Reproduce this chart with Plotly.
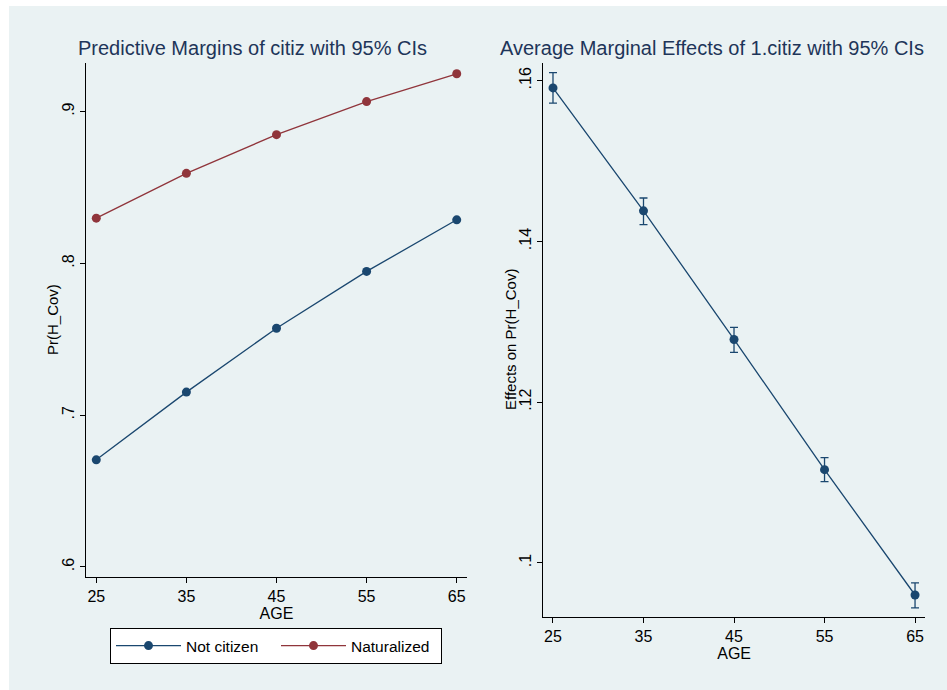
import plotly.graph_objects as go

age = [25, 35, 45, 55, 65]
not_citizen = [0.6706, 0.7152, 0.7573, 0.7947, 0.8287]
naturalized = [0.8298, 0.8593, 0.8848, 0.9066, 0.9249]
ame = [0.1591, 0.1438, 0.1278, 0.1116, 0.0960]
ame_hi = [0.1610, 0.1454, 0.1293, 0.1131, 0.0975]
ame_lo = [0.1572, 0.1421, 0.1262, 0.1101, 0.0944]

left_yticks = [0.6, 0.7, 0.8, 0.9]
left_ylabels = [".6", ".7", ".8", ".9"]
right_yticks = [0.10, 0.12, 0.14, 0.16]
right_ylabels = [".1", ".12", ".14", ".16"]

NAVY = "#1A476F"
MAROON = "#90353B"
BG = "#EAF2F3"
TITLE = "#1E3559"
FONT = "Liberation Sans, Arial, sans-serif"
W, H = 947, 690

fig = go.Figure()
fig.add_trace(go.Scatter(x=age, y=not_citizen, mode="lines+markers", name="Not citizen",
                         line=dict(color=NAVY, width=1.3), marker=dict(color=NAVY, size=9),
                         xaxis="x", yaxis="y"))
fig.add_trace(go.Scatter(x=age, y=naturalized, mode="lines+markers", name="Naturalized",
                         line=dict(color=MAROON, width=1.3), marker=dict(color=MAROON, size=9),
                         xaxis="x", yaxis="y"))
fig.add_trace(go.Scatter(x=age, y=ame, mode="lines+markers", showlegend=False,
                         line=dict(color=NAVY, width=1.3), marker=dict(color=NAVY, size=9),
                         error_y=dict(type="data", symmetric=False,
                                      array=[h - v for h, v in zip(ame_hi, ame)],
                                      arrayminus=[v - l for l, v in zip(ame_lo, ame)],
                                      color=NAVY, thickness=1.3, width=4),
                         xaxis="x2", yaxis="y2"))

def px(v):
    return v / W

def py(v):
    return 1 - v / H

axis_common = dict(showline=True, linecolor="black", linewidth=1, ticks="outside",
                   ticklen=5, tickcolor="black", tickfont=dict(size=16, color="black", family=FONT),
                   zeroline=False)

fig.update_layout(
    width=W, height=H,
    margin=dict(l=0, r=0, t=0, b=0),
    paper_bgcolor="white", plot_bgcolor="white",
    font=dict(family=FONT, color="black"),
    xaxis=dict(domain=[px(86), px(467)], range=[23.86, 66.14], tickvals=age,
               showgrid=False, anchor="y",
               title=dict(text="AGE", font=dict(size=16), standoff=0), **axis_common),
    yaxis=dict(domain=[py(577), py(63)], range=[0.5934, 0.932], tickvals=left_yticks,
               ticktext=left_ylabels, tickangle=-90, showgrid=True, gridcolor=BG, gridwidth=1,
               anchor="x", **axis_common),
    xaxis2=dict(domain=[px(543.3), px(925)], range=[23.93, 66.1], tickvals=age,
                showgrid=False, anchor="y2",
                title=dict(text="AGE", font=dict(size=16), standoff=0), **axis_common),
    yaxis2=dict(domain=[py(616.7), py(63)], range=[0.0933, 0.1622], tickvals=right_yticks,
                ticktext=right_ylabels, tickangle=-90, showgrid=True, gridcolor=BG, gridwidth=1,
                anchor="x2", **axis_common),
    legend=dict(orientation="h", x=px(110), xanchor="left", y=py(628), yanchor="top",
                bgcolor="white", bordercolor="black", borderwidth=1,
                font=dict(size=15.5, color="black", family=FONT),
                entrywidth=85, itemwidth=65, tracegroupgap=0),
    shapes=[dict(type="rect", xref="paper", yref="paper", x0=px(9), x1=1, y0=0, y1=py(6),
                 fillcolor=BG, line=dict(width=0), layer="below")],
    annotations=[
        dict(text="Predictive Margins of citiz with 95% CIs", x=px(253), y=py(48),
             xref="paper", yref="paper", showarrow=False, xanchor="center", yanchor="middle",
             font=dict(size=20, color=TITLE, family=FONT)),
        dict(text="Average Marginal Effects of 1.citiz with 95% CIs", x=px(711.5), y=py(48),
             xref="paper", yref="paper", showarrow=False, xanchor="center", yanchor="middle",
             font=dict(size=20, color=TITLE, family=FONT)),
        dict(text="Pr(H_Cov)", x=px(52), y=py(320), textangle=-90,
             xref="paper", yref="paper", showarrow=False, xanchor="center", yanchor="middle",
             font=dict(size=15, color="black", family=FONT)),
        dict(text="Effects on Pr(H_Cov)", x=px(510), y=py(340), textangle=-90,
             xref="paper", yref="paper", showarrow=False, xanchor="center", yanchor="middle",
             font=dict(size=15, color="black", family=FONT)),
    ],
)

fig.write_html("out.html")
